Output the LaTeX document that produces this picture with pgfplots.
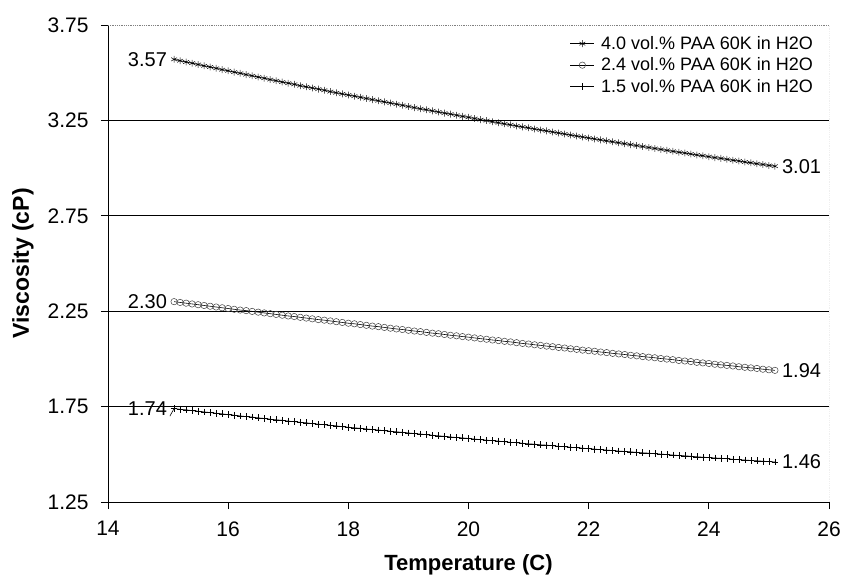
\documentclass[border=0pt]{standalone}
\usepackage{fontspec}
\setmainfont{Liberation Sans}
\usepackage{pgfplots}
\pgfplotsset{compat=1.18}
\usepackage{pgfplotstable}

% T = temperature (C); A = 4.0 vol.%, B = 2.4 vol.%, C = 1.5 vol.% PAA 60K
\pgfplotstableread{
T A B C
15.1 3.570 2.300 1.740
15.2 3.563 2.296 1.736
15.3 3.556 2.292 1.733
15.4 3.550 2.288 1.729
15.5 3.543 2.284 1.726
15.6 3.536 2.280 1.722
15.7 3.530 2.276 1.719
15.8 3.523 2.272 1.715
15.9 3.516 2.268 1.712
16.0 3.510 2.264 1.708
16.1 3.503 2.260 1.705
16.2 3.497 2.256 1.701
16.3 3.490 2.253 1.698
16.4 3.484 2.249 1.695
16.5 3.477 2.245 1.691
16.6 3.471 2.241 1.688
16.7 3.464 2.237 1.684
16.8 3.458 2.233 1.681
16.9 3.451 2.229 1.678
17.0 3.445 2.225 1.674
17.1 3.439 2.222 1.671
17.2 3.432 2.218 1.668
17.3 3.426 2.214 1.665
17.4 3.420 2.210 1.661
17.5 3.414 2.206 1.658
17.6 3.408 2.203 1.655
17.7 3.401 2.199 1.652
17.8 3.395 2.195 1.649
17.9 3.389 2.191 1.645
18.0 3.383 2.187 1.642
18.1 3.377 2.184 1.639
18.2 3.371 2.180 1.636
18.3 3.365 2.176 1.633
18.4 3.359 2.172 1.630
18.5 3.353 2.169 1.627
18.6 3.347 2.165 1.624
18.7 3.341 2.161 1.621
18.8 3.335 2.157 1.618
18.9 3.329 2.154 1.615
19.0 3.323 2.150 1.612
19.1 3.317 2.146 1.609
19.2 3.311 2.143 1.606
19.3 3.306 2.139 1.603
19.4 3.300 2.135 1.600
19.5 3.294 2.132 1.597
19.6 3.288 2.128 1.594
19.7 3.283 2.124 1.591
19.8 3.277 2.121 1.588
19.9 3.271 2.117 1.586
20.0 3.266 2.114 1.583
20.1 3.260 2.110 1.580
20.2 3.254 2.106 1.577
20.3 3.249 2.103 1.574
20.4 3.243 2.099 1.572
20.5 3.238 2.096 1.569
20.6 3.232 2.092 1.566
20.7 3.227 2.089 1.563
20.8 3.221 2.085 1.561
20.9 3.216 2.081 1.558
21.0 3.211 2.078 1.555
21.1 3.205 2.074 1.553
21.2 3.200 2.071 1.550
21.3 3.195 2.067 1.548
21.4 3.189 2.064 1.545
21.5 3.184 2.060 1.542
21.6 3.179 2.057 1.540
21.7 3.173 2.053 1.537
21.8 3.168 2.050 1.535
21.9 3.163 2.046 1.532
22.0 3.158 2.043 1.530
22.1 3.153 2.040 1.527
22.2 3.148 2.036 1.525
22.3 3.143 2.033 1.522
22.4 3.138 2.029 1.520
22.5 3.133 2.026 1.517
22.6 3.128 2.023 1.515
22.7 3.123 2.019 1.513
22.8 3.118 2.016 1.510
22.9 3.113 2.012 1.508
23.0 3.108 2.009 1.506
23.1 3.103 2.006 1.503
23.2 3.098 2.002 1.501
23.3 3.093 1.999 1.499
23.4 3.088 1.996 1.496
23.5 3.083 1.992 1.494
23.6 3.079 1.989 1.492
23.7 3.074 1.986 1.490
23.8 3.069 1.982 1.487
23.9 3.065 1.979 1.485
24.0 3.060 1.976 1.483
24.1 3.055 1.972 1.481
24.2 3.051 1.969 1.479
24.3 3.046 1.966 1.477
24.4 3.041 1.963 1.474
24.5 3.037 1.959 1.472
24.6 3.032 1.956 1.470
24.7 3.028 1.953 1.468
24.8 3.023 1.950 1.466
24.9 3.019 1.946 1.464
25.0 3.014 1.943 1.462
25.1 3.010 1.940 1.460
}\visc

\begin{document}
\begin{tikzpicture}
\useasboundingbox (-108pt,-79pt) rectangle (739pt,502pt);
\begin{axis}[
  at={(0,0)}, anchor=south west,
  scale only axis, width=721pt, height=477pt,
  xmin=14, xmax=26, ymin=1.25, ymax=3.75,
  xtick={14,16,18,20,22,24,26},
  ytick={1.25,1.75,2.25,2.75,3.25,3.75},
  yticklabel={\pgfmathprintnumber[fixed,fixed zerofill,precision=2]{\tick}},
  /pgf/number format/assume math mode=true,
  axis x line*=bottom, axis y line*=left,
  axis line style={black, line width=0.9pt},
  tick align=outside, major tick length=7pt,
  tick style={black, line width=0.9pt},
  extra y ticks={1.75,2.25,2.75,3.25}, extra y tick labels={},
  extra y tick style={grid=major, major tick length=0pt,
    major grid style={black, line width=0.9pt}},
  x tick label style={font=\fontsize{21}{23}\selectfont, yshift=-9pt},
  y tick label style={font=\fontsize{21}{23}\selectfont, xshift=-9pt},
  xlabel={Temperature (C)}, ylabel={Viscosity (cP)},
  xlabel style={at={(axis description cs:0.5,-0.132)}, anchor=center,
    font=\bfseries\fontsize{22}{24}\selectfont},
  ylabel style={at={(axis description cs:-0.118,0.5)}, anchor=center,
    rotate=0, font=\bfseries\fontsize{23}{25}\selectfont},
  legend style={at={(0.985,0.985)}, anchor=north east, draw=none,
    fill=none, font=\fontsize{18}{21}\selectfont,
    legend cell align=left, row sep=3pt},
  legend image code/.code={
    \draw[mark repeat=2,mark phase=2] plot coordinates {
      (0cm,0cm) (0.42cm,0cm) (0.84cm,0cm)};
    \path (1.0cm,0cm);},
]
\addplot[black, line width=0.7pt, mark=asterisk, mark size=3.4pt,
  mark options={line width=0.5pt}] table[x=T, y=A] {\visc};
\addlegendentry{4.0 vol.\% PAA 60K in H2O}
\addplot[black, line width=0.6pt, mark=o, mark size=3.2pt,
  mark options={draw=black!75, line width=0.5pt}] table[x=T, y=B] {\visc};
\addlegendentry{2.4 vol.\% PAA 60K in H2O}
\addplot[black, line width=0.6pt, mark=+, mark size=3.4pt,
  mark options={line width=0.5pt}] table[x=T, y=C] {\visc};
\addlegendentry{1.5 vol.\% PAA 60K in H2O}
\addplot[black, line width=0.6pt, forget plot] coordinates {(15.03,1.70) (15.1,1.74)};

\draw[gray, densely dotted, line width=0.8pt]
  (rel axis cs:0,1) -- (rel axis cs:1,1) -- (rel axis cs:1,0);

\begin{scope}[font=\fontsize{20}{22}\selectfont]
\node[anchor=east, inner sep=7pt] at (axis cs:15.1,3.57) {3.57};
\node[anchor=east, inner sep=7pt] at (axis cs:15.1,2.30) {2.30};
\node[anchor=east, inner sep=7pt] at (axis cs:15.1,1.74) {1.74};
\node[anchor=west, inner sep=7pt] at (axis cs:25.1,3.01) {3.01};
\node[anchor=west, inner sep=7pt] at (axis cs:25.1,1.94) {1.94};
\node[anchor=west, inner sep=7pt] at (axis cs:25.1,1.46) {1.46};
\end{scope}
\end{axis}
\end{tikzpicture}
\end{document}
